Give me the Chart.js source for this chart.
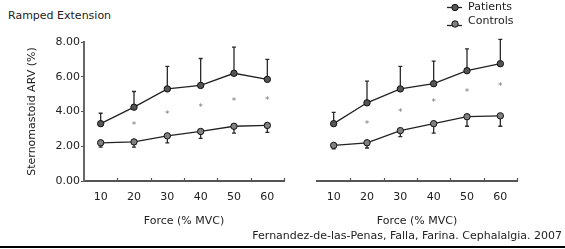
<!DOCTYPE html>
<html><head><meta charset="utf-8">
<script src="https://cdn.jsdelivr.net/npm/chart.js@4.4.1/dist/chart.umd.min.js"></script>
<style>
html,body{margin:0;padding:0;background:#fff;width:565px;height:249px;overflow:hidden;position:relative;font-family:"DejaVu Sans",sans-serif;}
#c1{position:absolute;left:0;top:0;}
#c2{position:absolute;left:290px;top:0;}
#title{position:absolute;left:8px;top:9px;font-size:11px;color:#222;white-space:nowrap;}
#cite{position:absolute;right:3px;top:229px;font-size:11px;color:#222;white-space:nowrap;}
#rule{position:absolute;left:0;top:246px;width:565px;height:2px;background:#000;}
</style></head><body>
<div id="title">Ramped Extension</div>
<canvas id="c1" width="290" height="249"></canvas>
<canvas id="c2" width="275" height="249"></canvas>
<div id="cite">Fernandez-de-las-Penas, Falla, Farina. Cephalalgia. 2007</div>
<div id="rule"></div>
<script>
const categories = ['10','20','30','40','50','60'];
const yTicks = [0, 2, 4, 6, 8];
const seriesNames = ['Patients', 'Controls'];
const xTitle = 'Force (% MVC)';
const yTitle = 'Sternomastoid ARV (%)';

const leftPatients        = [3.30, 4.25, 5.30, 5.50, 6.20, 5.85];
const leftPatientsTop     = [3.90, 5.15, 6.60, 7.05, 7.70, 7.00];
const leftControls        = [2.20, 2.25, 2.60, 2.85, 3.15, 3.20];
const leftControlsBottom  = [1.95, 1.95, 2.20, 2.45, 2.75, 2.80];
const leftStars           = [null, 3.35, 3.95, 4.35, 4.70, 4.80];

const rightPatients       = [3.30, 4.50, 5.30, 5.60, 6.35, 6.75];
const rightPatientsTop    = [3.95, 5.75, 6.60, 6.90, 7.60, 8.15];
const rightControls       = [2.05, 2.20, 2.90, 3.30, 3.70, 3.75];
const rightControlsBottom = [1.85, 1.90, 2.55, 2.75, 3.15, 3.15];
const rightStars          = [null, 3.40, 4.10, 4.65, 5.25, 5.60];

const FONT = 'DejaVu Sans';
const PAT_FILL = '#555555', CON_FILL = '#808080';

function extrasPlugin(tops, bottoms, stars, withLegend) {
  return {
    id: 'extras',
    beforeDatasetsDraw(chart) {
      const ctx = chart.ctx, x = chart.scales.x, y = chart.scales.y;
      ctx.save();
      ctx.strokeStyle = '#2a2a2a';
      ctx.lineWidth = 1.3;
      const bar = (i, from, to) => {
        const px = x.getPixelForValue(i);
        const y0 = y.getPixelForValue(from), y1 = y.getPixelForValue(to);
        ctx.beginPath(); ctx.moveTo(px, y0); ctx.lineTo(px, y1);
        ctx.moveTo(px - 2, y1); ctx.lineTo(px + 2, y1); ctx.stroke();
      };
      const p = chart.data.datasets[0].data, c = chart.data.datasets[1].data;
      categories.forEach((_, i) => { bar(i, p[i], tops[i]); bar(i, c[i], bottoms[i]); });
      ctx.fillStyle = '#777';
      ctx.font = '9px ' + FONT;
      ctx.textAlign = 'center';
      ctx.textBaseline = 'alphabetic';
      stars.forEach((v, i) => {
        if (v === null) return;
        ctx.fillText('*', x.getPixelForValue(i), y.getPixelForValue(v) + 5);
      });
      ctx.strokeStyle = '#555'; ctx.lineWidth = 1.2;
      const w = (x.right - x.left) / categories.length;
      for (let i = 1; i <= categories.length; i++) {
        const px = Math.round(x.left + i * w) + 0.5;
        ctx.beginPath(); ctx.moveTo(px, x.top); ctx.lineTo(px, x.top - 3); ctx.stroke();
      }
      ctx.restore();
    },
    afterDraw(chart) {
      if (!withLegend) return;
      const ctx = chart.ctx;
      ctx.save();
      const items = [
        {name: seriesNames[0], fill: PAT_FILL, ly: 7.5, my: 7.5, ty: 7},
        {name: seriesNames[1], fill: CON_FILL, ly: 25.5, my: 24, ty: 21}
      ];
      items.forEach(it => {
        ctx.strokeStyle = '#222'; ctx.lineWidth = 1.3;
        ctx.beginPath(); ctx.moveTo(157, it.ly); ctx.lineTo(172, it.ly); ctx.stroke();
        ctx.beginPath(); ctx.arc(165, it.my, 3.2, 0, Math.PI * 2);
        ctx.fillStyle = it.fill; ctx.fill(); ctx.lineWidth = 1; ctx.strokeStyle = '#111'; ctx.stroke();
        ctx.fillStyle = '#222'; ctx.font = '11px ' + FONT;
        ctx.textAlign = 'left'; ctx.textBaseline = 'middle';
        ctx.fillText(it.name, 178, it.ty);
      });
      ctx.restore();
    }
  };
}

function makeChart(id, pat, patTop, con, conBottom, stars, showY, padding, legend) {
  return new Chart(document.getElementById(id), {
    type: 'line',
    data: {
      labels: categories,
      datasets: [
        {label: seriesNames[0], data: pat, borderColor: '#222', borderWidth: 1.3,
         pointRadius: 3.2, pointBackgroundColor: PAT_FILL, pointBorderColor: '#111', pointBorderWidth: 1, tension: 0},
        {label: seriesNames[1], data: con, borderColor: '#222', borderWidth: 1.3,
         pointRadius: 3.2, pointBackgroundColor: CON_FILL, pointBorderColor: '#111', pointBorderWidth: 1, tension: 0}
      ]
    },
    options: {
      responsive: false, animation: false, devicePixelRatio: 1,
      layout: {padding: padding},
      plugins: {legend: {display: false}, tooltip: {enabled: false}},
      scales: {
        x: {
          offset: true,
          grid: {display: true, drawOnChartArea: false, drawTicks: false},
          border: {display: true, color: '#555', width: 2},
          ticks: {color: '#222', font: {family: FONT, size: 11}, padding: 10, maxRotation: 0},
          title: {display: true, text: xTitle, color: '#222', font: {family: FONT, size: 11}, padding: {top: 0, bottom: 21}},
          afterFit(s) { s.height = 68; }
        },
        y: {
          display: showY, min: 0, max: 8,
          afterBuildTicks(s) { s.ticks = yTicks.map(v => ({value: v})); },
          grid: {drawOnChartArea: false, drawTicks: true, tickLength: 3, color: '#555'},
          border: {display: true, color: '#666', width: 2},
          ticks: {color: '#222', font: {family: FONT, size: 11}, padding: 1, callback: v => Number(v).toFixed(2)},
          title: {display: true, text: yTitle, color: '#222', font: {family: FONT, size: 11}, padding: {top: 26, bottom: 0}},
          afterFit(s) { if (showY) s.width = 84; }
        }
      }
    },
    plugins: [extrasPlugin(patTop, conBottom, stars, legend)]
  });
}

makeChart('c1', leftPatients, leftPatientsTop, leftControls, leftControlsBottom, leftStars, true,
  {top: 42, right: 6, left: 0, bottom: 0}, false);
makeChart('c2', rightPatients, rightPatientsTop, rightControls, rightControlsBottom, rightStars, false,
  {top: 42, right: 48, left: 27, bottom: 0}, true);
</script>
</body></html>
